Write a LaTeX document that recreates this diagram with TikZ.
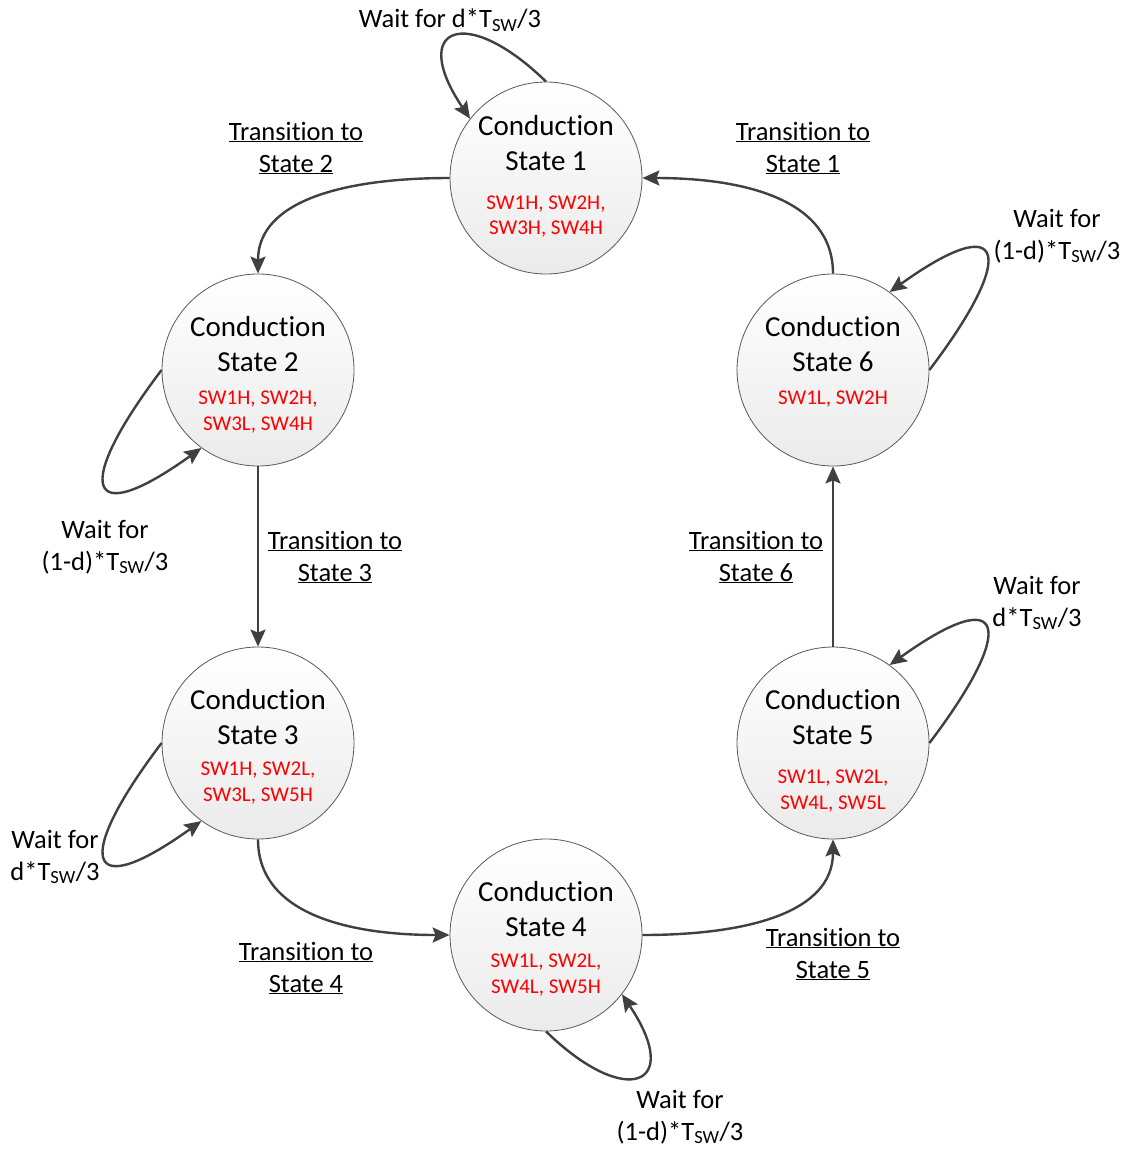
\documentclass[tikz,border=0pt]{standalone}
\usepackage{fontspec}
\setmainfont[Ligatures={NoCommon,NoRare,NoContextual}]{Carlito}
\usetikzlibrary{arrows.meta}
\newcommand\trto{\underline{Transi\kern0pt tion to}}
\newcommand\cond{Conduc\kern0pt tion}
\begin{document}
\begin{tikzpicture}[x=1pt,y=-1pt,
  stbox/.style={circle, draw=black!65, line width=0.8pt, minimum size=192pt, inner sep=0pt, top color=white, bottom color=black!8},
  ttl/.style={font=\fontsize{29}{35}\selectfont, align=center, text=black, inner sep=0pt},
  sw/.style={font=\fontsize{21}{25.5}\selectfont, align=center, text=red, inner sep=0pt},
  lbl/.style={font=\fontsize{26.5}{32}\selectfont, align=center, inner sep=0pt},
  conn/.style={draw=black!75, line width=2.4pt, -{Stealth[length=17pt,width=15pt,inset=3pt]}}
]
\useasboundingbox (0,0) rectangle (1127,1150);
\fill[white] (0,0) rectangle (1127,1150);

% states
\node[stbox] (c1) at (546,178) {};
\node[stbox] (c2) at (258,370) {};
\node[stbox] (c3) at (258,743) {};
\node[stbox] (c4) at (546,935) {};
\node[stbox] (c5) at (833,743) {};
\node[stbox] (c6) at (833,370) {};

% state texts
\node[ttl] (t1) at (546,143.5) {\cond\\State 1};
\node[sw]  (r1) at (546,216.5) {SW1H, SW2H,\\SW3H, SW4H};
\node[ttl] (t2) at (258,344.5) {\cond\\State 2};
\node[sw]  (r2) at (258,412) {SW1H, SW2H,\\SW3L, SW4H};
\node[ttl] (t3) at (258,717.5) {\cond\\State 3};
\node[sw]  (r3) at (258,783) {SW1H, SW2L,\\SW3L, SW5H};
\node[ttl] (t4) at (546,909.5) {\cond\\State 4};
\node[sw]  (r4) at (546,975) {SW1L, SW2L,\\SW4L, SW5H};
\node[ttl] (t5) at (833,717.5) {\cond\\State 5};
\node[sw]  (r5) at (833,791) {SW1L, SW2L,\\SW4L, SW5L};
\node[ttl] (t6) at (833,344.5) {\cond\\State 6};
\node[sw]  (r6) at (833,399) {SW1L, SW2H};

% transitions
\draw[conn] (c1.180) .. controls +(-100,0) and +(0,-75) .. (c2.90);
\draw[conn] (c2.270) -- (c3.90);
\draw[conn] (c3.270) .. controls +(0,75) and +(-100,0) .. (c4.180);
\draw[conn] (c4.0) .. controls +(100,0) and +(0,75) .. (c5.270);
\draw[conn] (c5.90) -- (c6.270);
\draw[conn] (c6.90) .. controls +(0,-75) and +(100,0) .. (c1.0);

% self loops
\draw[conn] (c1.90) .. controls +(-80,-78) and +(-62,-92) .. (c1.142);
\draw[conn] (c6.0) .. controls +(88,-116) and +(117,-84) .. (c6.54);
\draw[conn] (c5.0) .. controls +(88,-116) and +(117,-84) .. (c5.54);
\draw[conn] (c2.180) .. controls +(-88,116) and +(-117,84) .. (c2.234);
\draw[conn] (c3.180) .. controls +(-88,116) and +(-117,84) .. (c3.234);
\draw[conn] (c4.270) .. controls +(80,78) and +(62,92) .. (c4.322);

% labels
\node[lbl] (w1) at (450,20) {Wait for d*T\textsubscript{SW}/3};
\node[lbl] (w6) at (1057,236) {Wait for\\(1-d)*T\textsubscript{SW}/3};
\node[lbl] (w2) at (105,547) {Wait for\\(1-d)*T\textsubscript{SW}/3};
\node[lbl] (w5) at (1037,603) {Wait for\\d*T\textsubscript{SW}/3};
\node[lbl] (w3) at (55,857) {Wait for\\d*T\textsubscript{SW}/3};
\node[lbl] (w4) at (680,1117) {Wait for\\(1-d)*T\textsubscript{SW}/3};

\node[lbl] (l12) at (296,148) {\trto\\\underline{State 2}};
\node[lbl] (l61) at (803,148) {\trto\\\underline{State 1}};
\node[lbl] (l23) at (335,557) {\trto\\\underline{State 3}};
\node[lbl] (l56) at (756,557) {\trto\\\underline{State 6}};
\node[lbl] (l34) at (306,968) {\trto\\\underline{State 4}};
\node[lbl] (l45) at (833,954) {\trto\\\underline{State 5}};
\end{tikzpicture}
\end{document}
